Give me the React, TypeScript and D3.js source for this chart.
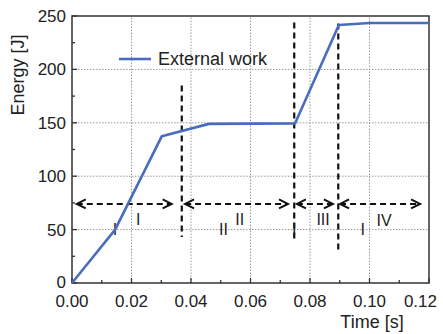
import React from "react";
import * as d3 from "d3";

const timeS = [0, 0.0145, 0.0302, 0.046, 0.075, 0.0897, 0.1, 0.12];
const energyJ = [0, 50, 137.5, 149, 149.5, 241.5, 243.5, 243.5];
const xTicks = [0, 0.02, 0.04, 0.06, 0.08, 0.1, 0.12];
const yTicks = [0, 50, 100, 150, 200, 250];
const xMinor = [0.01, 0.03, 0.05, 0.07, 0.09, 0.11];
const yMinor = [25, 75, 125, 175, 225];
const seriesName = "External work";

// phase boundaries (time, energy from, energy to)
const boundT = [0.0369, 0.0747, 0.0895];
const boundLo = [43, 39, 31];
const boundHi = [185, 244, 243];

// horizontal double arrows (start, end time) at energy level
const arrowFrom = [0.0016, 0.038, 0.0756, 0.0901];
const arrowTo = [0.0335, 0.0726, 0.0877, 0.117];
const arrowLevel = 74;

const noteText = ["I", "I", "II", "II", "I", "III", "I", "IV"];
const noteT = [0.01445, 0.0223, 0.0509, 0.0564, 0.0747, 0.0844, 0.0977, 0.1049];
const noteE = [45, 54.3, 45, 54.3, 45, 54.3, 45, 53.4];

export default function App() {
  const W = 443, H = 334;
  const x = d3.scaleLinear().domain([0, 0.12]).range([72, 429]);
  const y = d3.scaleLinear().domain([0, 250]).range([283, 16]);
  const line = d3.line<number>().x((_, i) => x(timeS[i])).y((d) => y(d));
  const font = "Liberation Sans, Arial, sans-serif";
  const blue = "#4a6cc0";

  const arrowHead = (tx: number, ty: number, dir: number, key: string) => {
    const L = 9, Hh = 4.5;
    return (
      <path key={key}
        d={`M${tx + dir * L},${ty - Hh} L${tx},${ty} L${tx + dir * L},${ty + Hh}`}
        fill="none" stroke="#111" strokeWidth={2} />
    );
  };

  return (
    <svg width={W} height={H} style={{ position: "absolute", left: 0, top: 0, background: "#fff" }}>
      <rect x={0} y={0} width={W} height={H} fill="#fff" />
      {/* grid */}
      {xTicks.slice(1, -1).map((t) => (
        <line key={"gx" + t} x1={x(t)} x2={x(t)} y1={y(0)} y2={y(250)} stroke="#9a9a9a" strokeWidth={1} strokeDasharray="1.5,1.5" />
      ))}
      {yTicks.slice(1, -1).map((t) => (
        <line key={"gy" + t} x1={x(0)} x2={x(0.12)} y1={y(t)} y2={y(t)} stroke="#9a9a9a" strokeWidth={1} strokeDasharray="1.5,1.5" />
      ))}
      {/* ticks */}
      {xTicks.map((t) => (
        <line key={"tx" + t} x1={x(t)} x2={x(t)} y1={y(0)} y2={y(0) - 5} stroke="#333" strokeWidth={1.3} />
      ))}
      {xMinor.map((t) => (
        <line key={"mx" + t} x1={x(t)} x2={x(t)} y1={y(0)} y2={y(0) - 3} stroke="#333" strokeWidth={1.3} />
      ))}
      {yTicks.map((t) => (
        <line key={"ty" + t} x1={x(0)} x2={x(0) + 5} y1={y(t)} y2={y(t)} stroke="#333" strokeWidth={1.3} />
      ))}
      {yMinor.map((t) => (
        <line key={"my" + t} x1={x(0)} x2={x(0) + 3} y1={y(t)} y2={y(t)} stroke="#333" strokeWidth={1.3} />
      ))}
      {/* frame */}
      <rect x={x(0)} y={y(250)} width={x(0.12) - x(0)} height={y(0) - y(250)} fill="none" stroke="#333" strokeWidth={1.5} />
      {/* tick labels */}
      {xTicks.map((t, i) => {
        const last = i === xTicks.length - 1;
        return (
          <text key={"lx" + t} x={last ? 437 : x(t)} y={307} textAnchor={last ? "end" : "middle"} fontFamily={font} fontSize={17} fill="#222">
            {t.toFixed(2)}
          </text>
        );
      })}
      {yTicks.map((t) => (
        <text key={"ly" + t} x={66} y={y(t) + (t === 0 ? 4.5 : 6)} textAnchor="end" fontFamily={font} fontSize={17} fill="#222">
          {t}
        </text>
      ))}
      <text x={372} y={328} textAnchor="middle" fontFamily={font} fontSize={18} fill="#222">Time [s]</text>
      <text transform={`translate(24,75) rotate(-90)`} textAnchor="middle" fontFamily={font} fontSize={18} fill="#222">Energy [J]</text>
      {/* phase boundaries */}
      {boundT.map((t, i) => (
        <line key={"b" + i} x1={x(t)} x2={x(t)} y1={y(boundHi[i])} y2={y(boundLo[i])} stroke="#111" strokeWidth={2.2} strokeDasharray="6,4" />
      ))}
      {/* arrows */}
      {arrowFrom.map((t0, i) => {
        const x0 = x(t0), x1 = x(arrowTo[i]), yy = y(arrowLevel);
        return (
          <g key={"a" + i}>
            <line x1={x0} x2={x1} y1={yy} y2={yy} stroke="#111" strokeWidth={2} strokeDasharray="6,4" />
            {arrowHead(x0, yy, 1, "l")}
            {arrowHead(x1, yy, -1, "r")}
          </g>
        );
      })}
      {/* notes */}
      {noteText.map((s, i) => (
        <text key={"n" + i} x={x(noteT[i])} y={y(noteE[i])} textAnchor="middle" fontFamily={font} fontSize={16} fill="#222">{s}</text>
      ))}
      {/* data line */}
      <path d={line(energyJ) || ""} fill="none" stroke={blue} strokeWidth={2.6} strokeLinejoin="round" />
      {/* legend */}
      <line x1={119} x2={151} y1={59} y2={59} stroke={blue} strokeWidth={2.6} />
      <text x={158} y={65} fontFamily={font} fontSize={18} fill="#222">{seriesName}</text>
    </svg>
  );
}
